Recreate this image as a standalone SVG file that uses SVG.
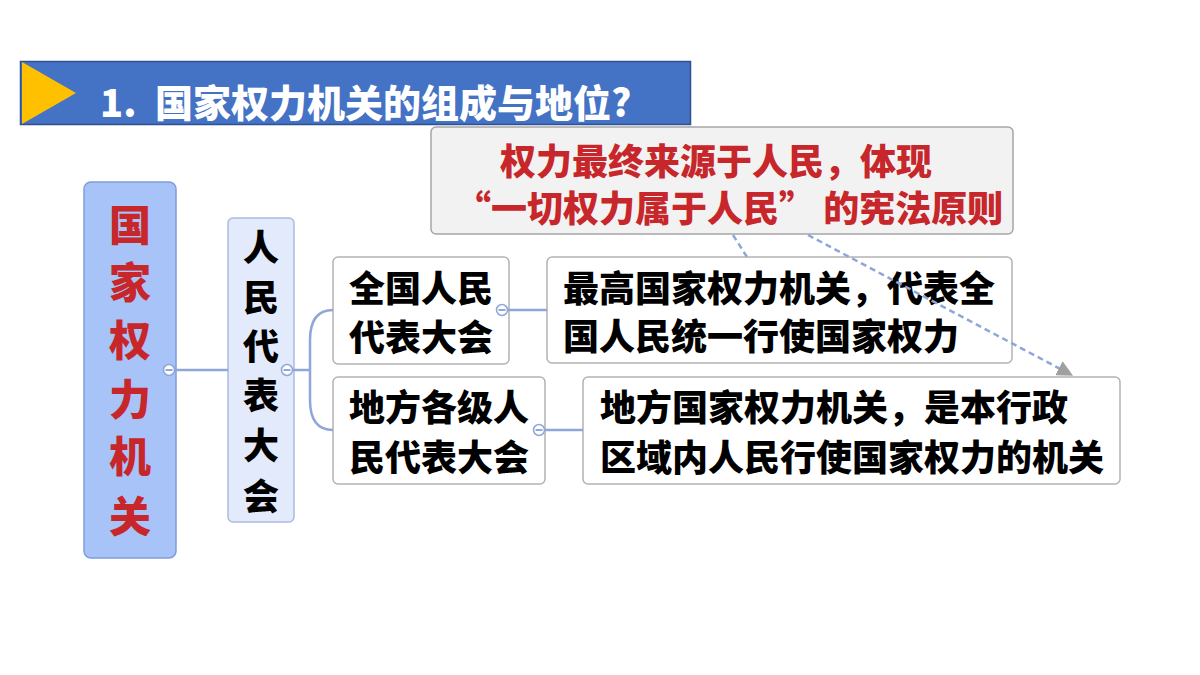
<svg xmlns="http://www.w3.org/2000/svg" width="1200" height="675" viewBox="0 0 1200 675">
<defs>
<style>
.t{font-family:"Noto Sans CJK SC","Noto Sans",sans-serif;font-weight:900}
.blk{fill:#000;font-size:36px}
.red{fill:#C7262B}
.box{fill:#fff;stroke:#B3B3B3;stroke-width:1.5}
.con{fill:none;stroke:#8EA6D8;stroke-width:2.5}
.dash{fill:none;stroke:#8EA6D8;stroke-width:2.5;stroke-dasharray:6 4}
.knob{fill:#fff;stroke:#8EA6D8;stroke-width:1.5}
.minus{stroke:#8EA6D8;stroke-width:2}
</style>
<marker id="arr" viewBox="0 0 10 10" refX="5" refY="5" markerWidth="16" markerHeight="16" markerUnits="userSpaceOnUse" orient="auto">
<path d="M0,0 L10,5 L0,10 Z" fill="#A0A0A0"/>
</marker>
</defs>
<rect width="1200" height="675" fill="#fff"/>

<g id="title">
<rect x="20.5" y="61.5" width="670" height="63" fill="#4472C4" stroke="#2F528F" stroke-width="1.5"/>
<polygon points="22,62 76,93 22,124" fill="#FFC000"/>
<text class="t" y="117" font-size="38" fill="#fff"><tspan x="100">1.</tspan><tspan x="155">国家权力机关的组成与地位?</tspan></text>
</g>

<g id="callout">
<rect x="431" y="127" width="582" height="107" rx="5" fill="#F2F2F2" stroke="#A6A6A6" stroke-width="1.5"/>
<text class="t red" font-size="36" x="500" y="175">权力最终来源于人民，体现</text>
<text class="t red" font-size="36" x="455" y="222">“一切权力属于人民” 的宪法原则</text>
</g>

<g id="root">
<rect x="84" y="182" width="92" height="376" rx="7" fill="#A7C3F7" stroke="#7F9ED8" stroke-width="1.5"/>
<g class="t red" font-size="42" text-anchor="middle">
<text x="130" y="241">国</text>
<text x="130" y="298">家</text>
<text x="130" y="356">权</text>
<text x="130" y="415">力</text>
<text x="130" y="472">机</text>
<text x="130" y="532">关</text>
</g>
<circle class="knob" cx="169" cy="370" r="5.5"/>
<line class="minus" x1="165.5" y1="370" x2="172.5" y2="370"/>
</g>

<g id="npc">
<rect x="228" y="218" width="66" height="304" rx="5" fill="#E2EAFB" stroke="#A8BCE2" stroke-width="1.5"/>
<g class="t" font-size="36" fill="#000" text-anchor="middle">
<text x="261" y="261">人</text>
<text x="261" y="311">民</text>
<text x="261" y="360">代</text>
<text x="261" y="409">表</text>
<text x="261" y="459">大</text>
<text x="261" y="510">会</text>
</g>
<circle class="knob" cx="287" cy="370" r="5.5"/>
<line class="minus" x1="283.5" y1="370" x2="290.5" y2="370"/>
</g>

<g id="national">
<rect class="box" x="333" y="257" width="176" height="107" rx="5"/>
<text class="t blk" x="349" y="302">全国人民</text>
<text class="t blk" x="349" y="351">代表大会</text>
<circle class="knob" cx="502" cy="310" r="5.5"/>
<line class="minus" x1="498.5" y1="310" x2="505.5" y2="310"/>
</g>

<g id="local">
<rect class="box" x="333" y="377" width="212" height="107" rx="5"/>
<text class="t blk" x="349" y="421">地方各级人</text>
<text class="t blk" x="349" y="471">民代表大会</text>
<circle class="knob" cx="539" cy="430" r="5.5"/>
<line class="minus" x1="535.5" y1="430" x2="542.5" y2="430"/>
</g>

<g id="national-desc">
<rect class="box" x="547" y="257" width="465" height="106" rx="5"/>
<text class="t blk" x="563" y="302">最高国家权力机关，代表全</text>
<text class="t blk" x="563" y="350">国人民统一行使国家权力</text>
</g>

<g id="local-desc">
<rect class="box" x="583" y="377" width="537" height="107" rx="5"/>
<text class="t blk" x="600" y="421">地方国家权力机关，是本行政</text>
<text class="t blk" x="600" y="471">区域内人民行使国家权力的机关</text>
</g>

<g id="connectors">
<line class="con" x1="175" y1="370" x2="228" y2="370"/>
<path class="con" d="M293,370 H310 M333,310 Q310,310 310,340 V400 Q310,430 333,430"/>
<line class="con" x1="508" y1="310" x2="547" y2="310"/>
<line class="con" x1="544" y1="430" x2="583" y2="430"/>
<line class="dash" x1="733" y1="235" x2="747" y2="257"/>
<line class="dash" x1="808" y1="235" x2="1066" y2="372" marker-end="url(#arr)"/>
</g>
</svg>
